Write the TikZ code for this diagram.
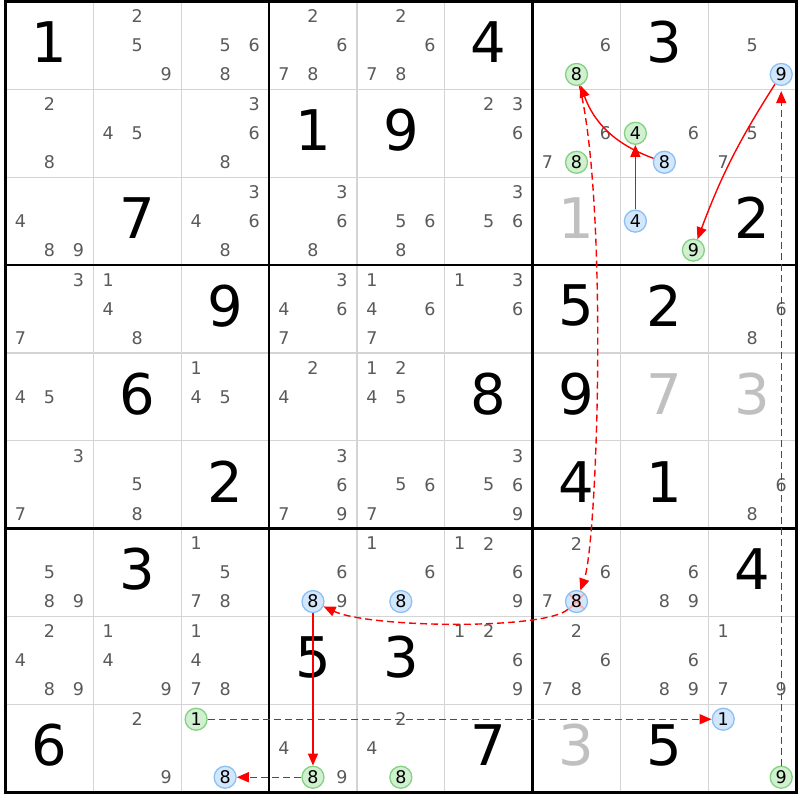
\documentclass[tikz,border=0pt]{standalone}
\usepackage{fontspec}
\setmainfont{DejaVu Sans}
\usetikzlibrary{arrows.meta}

\definecolor{candgray}{RGB}{90,90,90}
\definecolor{solvedgray}{RGB}{192,192,192}
\definecolor{gridgray}{RGB}{212,212,212}
\definecolor{greenfill}{RGB}{208,240,208}
\definecolor{greenline}{RGB}{130,210,130}
\definecolor{bluefill}{RGB}{210,230,252}
\definecolor{blueline}{RGB}{140,192,245}
\definecolor{linkred}{RGB}{255,0,0}

\tikzset{
  bigdigit/.style={inner sep=0pt, font=\fontsize{56}{56}\selectfont},
  givendigit/.style={bigdigit, text=black},
  solveddigit/.style={bigdigit, text=solvedgray},
  cand/.style={inner sep=0pt, text=candgray, font=\fontsize{17.5}{17.5}\selectfont},
  greencand/.style={cand, circle, minimum size=22pt, draw=greenline, fill=greenfill, line width=1.3pt, text=black},
  bluecand/.style={greencand, draw=blueline, fill=bluefill},
  crossed/.style={path picture={
    \draw[red!35, line width=1.6pt] (path picture bounding box.south west) -- (path picture bounding box.north east)
      (path picture bounding box.north west) -- (path picture bounding box.south east);}},
  strong/.style={draw=linkred, line width=1.4pt, -{Triangle[length=12pt,width=10pt]}},
  weak/.style={strong, dash pattern=on 7pt off 4pt},
}

% cell size and upper left corner of the grid (1pt = 1px)
\newcommand{\cellw}{87.85}
\newcommand{\gridx}{5.5}
\newcommand{\gridy}{1.5}

% \digitat{style}{row}{col}{digit}
\newcommand{\digitat}[4]{\node[#1] at ({\gridx+(#3-0.5)*\cellw},{\gridy+(#2-0.5)*\cellw-3}) {#4};}
% \cands{row}{col}{candidates}
\newcommand{\cands}[3]{\foreach \n in {#3}{%
  \node[cand] at ({\gridx+(#2-0.5)*\cellw+(mod(\n-1,3)-1)*29},{\gridy+(#1-0.5)*\cellw+(int((\n-1)/3)-1)*29}) {\n};}}
% \hcand{name}{style}{row}{col}{digit}
\newcommand{\hcand}[5]{\node[#2] (#1) at ({\gridx+(#4-0.5)*\cellw+(mod(#5-1,3)-1)*29},{\gridy+(#3-0.5)*\cellw+(int((#5-1)/3)-1)*29}) {#5};}

\begin{document}
\begin{tikzpicture}[x=1pt, y=-1pt]
    \useasboundingbox (0,0) rectangle (800,800);
    \fill[white] (0,0) rectangle (800,800);

    % grid
    \foreach \k in {1,2,4,5,7,8}{
        \draw[gridgray, line width=1.2pt] ({\gridx+\k*\cellw},\gridy) -- ({\gridx+\k*\cellw},{\gridy+9*\cellw});
        \draw[gridgray, line width=1.2pt] (\gridx,{\gridy+\k*\cellw}) -- ({\gridx+9*\cellw},{\gridy+\k*\cellw});
    }
    \foreach \k in {3,6}{
        \draw[black, line width=2.6pt] ({\gridx+\k*\cellw},\gridy) -- ({\gridx+\k*\cellw},{\gridy+9*\cellw});
        \draw[black, line width=2.6pt] (\gridx,{\gridy+\k*\cellw}) -- ({\gridx+9*\cellw},{\gridy+\k*\cellw});
    }
    \draw[black, line width=3pt] (\gridx,\gridy) rectangle ({\gridx+9*\cellw},{\gridy+9*\cellw});

    % givens
    \digitat{givendigit}{1}{1}{1} \digitat{givendigit}{1}{6}{4} \digitat{givendigit}{1}{8}{3}
    \digitat{givendigit}{2}{4}{1} \digitat{givendigit}{2}{5}{9}
    \digitat{givendigit}{3}{2}{7} \digitat{givendigit}{3}{9}{2}
    \digitat{givendigit}{4}{3}{9} \digitat{givendigit}{4}{7}{5} \digitat{givendigit}{4}{8}{2}
    \digitat{givendigit}{5}{2}{6} \digitat{givendigit}{5}{6}{8} \digitat{givendigit}{5}{7}{9}
    \digitat{givendigit}{6}{3}{2} \digitat{givendigit}{6}{7}{4} \digitat{givendigit}{6}{8}{1}
    \digitat{givendigit}{7}{2}{3} \digitat{givendigit}{7}{9}{4}
    \digitat{givendigit}{8}{4}{5} \digitat{givendigit}{8}{5}{3}
    \digitat{givendigit}{9}{1}{6} \digitat{givendigit}{9}{6}{7} \digitat{givendigit}{9}{8}{5}
    % solved
    \digitat{solveddigit}{3}{7}{1} \digitat{solveddigit}{5}{8}{7}
    \digitat{solveddigit}{5}{9}{3} \digitat{solveddigit}{9}{7}{3}

    % candidates
    \cands{1}{2}{2,5,9} \cands{1}{3}{5,6,8} \cands{1}{4}{2,6,7,8} \cands{1}{5}{2,6,7,8}
    \cands{1}{7}{6} \cands{1}{9}{5}
    \cands{2}{1}{2,8} \cands{2}{2}{4,5} \cands{2}{3}{3,6,8} \cands{2}{6}{2,3,6}
    \cands{2}{7}{6,7} \cands{2}{8}{6} \cands{2}{9}{5,7}
    \cands{3}{1}{4,8,9} \cands{3}{3}{3,4,6,8} \cands{3}{4}{3,6,8} \cands{3}{5}{5,6,8} \cands{3}{6}{3,5,6}
    \cands{4}{1}{3,7} \cands{4}{2}{1,4,8} \cands{4}{4}{3,4,6,7} \cands{4}{5}{1,4,6,7}
    \cands{4}{6}{1,3,6} \cands{4}{9}{6,8}
    \cands{5}{1}{4,5} \cands{5}{3}{1,4,5} \cands{5}{4}{2,4} \cands{5}{5}{1,2,4,5}
    \cands{6}{1}{3,7} \cands{6}{2}{5,8} \cands{6}{4}{3,6,7,9} \cands{6}{5}{5,6,7}
    \cands{6}{6}{3,5,6,9} \cands{6}{9}{6,8}
    \cands{7}{1}{5,8,9} \cands{7}{3}{1,5,7,8} \cands{7}{4}{6,9} \cands{7}{5}{1,6}
    \cands{7}{6}{1,2,6,9} \cands{7}{7}{2,6,7} \cands{7}{8}{6,8,9}
    \cands{8}{1}{2,4,8,9} \cands{8}{2}{1,4,9} \cands{8}{3}{1,4,7,8} \cands{8}{6}{1,2,6,9}
    \cands{8}{7}{2,6,7,8} \cands{8}{8}{6,8,9} \cands{8}{9}{1,7,9}
    \cands{9}{2}{2,9} \cands{9}{4}{4,9} \cands{9}{5}{2,4}

    % marked candidates
    \hcand{r1c7n8}{greencand}{1}{7}{8}
    \hcand{r1c9n9}{bluecand}{1}{9}{9}
    \hcand{r2c7n8}{greencand}{2}{7}{8}
    \hcand{r2c8n4}{greencand}{2}{8}{4}
    \hcand{r2c8n8}{bluecand}{2}{8}{8}
    \hcand{r3c8n4}{bluecand}{3}{8}{4}
    \hcand{r3c8n9}{greencand}{3}{8}{9}
    \hcand{r7c4n8}{bluecand}{7}{4}{8}
    \hcand{r7c5n8}{bluecand}{7}{5}{8}
    \hcand{r7c7n8}{bluecand, crossed}{7}{7}{8}
    \hcand{r9c3n1}{greencand}{9}{3}{1}
    \hcand{r9c3n8}{bluecand}{9}{3}{8}
    \hcand{r9c4n8}{greencand}{9}{4}{8}
    \hcand{r9c5n8}{greencand}{9}{5}{8}
    \hcand{r9c9n1}{bluecand}{9}{9}{1}
    \hcand{r9c9n9}{greencand}{9}{9}{9}

    % links
    \draw[strong] (r3c8n4) -- (r2c8n4);
    \draw[strong] (r2c8n8) to[bend left=25] (r1c7n8);
    \draw[strong] (r1c9n9) to[bend right=6] (r3c8n9);
    \draw[weak] (r1c7n8) .. controls (608,200) and (598,540) .. (r7c7n8);
    \draw[weak] (r7c7n8) .. controls (545,630) and (370,628) .. (r7c4n8);
    \draw[strong] (r7c4n8) -- (r9c4n8);
    \draw[weak] (r9c4n8) -- (r9c3n8);
    \draw[weak] (r9c3n1) -- (r9c9n1);
    \draw[weak, shorten >=5pt] (r9c9n9) -- (r1c9n9);
\end{tikzpicture}
\end{document}
